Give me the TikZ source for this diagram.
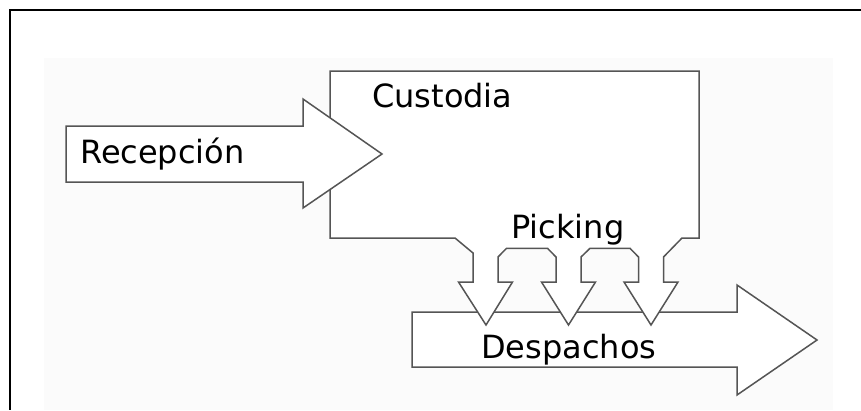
\documentclass[tikz,border=0pt]{standalone}
\usepackage{fontspec}
\setmainfont{DejaVu Sans}
\definecolor{outline}{HTML}{555555}
\definecolor{panel}{HTML}{FBFBFB}
\begin{document}
\begin{tikzpicture}[x=1pt,y=-1pt,
  shape line/.style={draw=outline,line width=1.5pt,fill=white,line join=miter},
  label text/.style={anchor=base west,inner sep=0pt,font=\fontsize{32}{38}\selectfont,text=black}]
\useasboundingbox (0,0) rectangle (861,410);
% page frame and panel
\fill[panel] (44,58) rectangle (833,410);
\draw[line width=2.6pt,black] (861,10) -- (10,10) -- (10,410);
% outgoing flow (Despachos)
\draw[shape line] (412,312) -- (737,312) -- (737,285) -- (817,340) -- (737,395)
  -- (737,367) -- (412,367) -- cycle;
% storage block with three picking arrows
\draw[shape line] (330,71) -- (699,71) -- (699,238) -- (682,238) -- (663.5,257)
  -- (663.5,282) -- (678,282) -- (651,325) -- (624,282) -- (638.5,282)
  -- (638.5,257) -- (630,248.3) -- (590,248.3) -- (581,257)
  -- (581,282) -- (595.5,282) -- (568.5,325) -- (541.5,282) -- (556,282)
  -- (556,257) -- (547.5,248.3) -- (506.5,248.3) -- (498,257)
  -- (498,282) -- (512.5,282) -- (486,325) -- (458.5,282) -- (473,282)
  -- (473,253) -- (455,238) -- (330,238) -- cycle;
% incoming flow (Recepción)
\draw[shape line] (66,126) -- (303,126) -- (303,99) -- (382,154) -- (303,208)
  -- (303,182) -- (66,182) -- cycle;
% labels
\node[label text] (custodia) at (372,107) {Custodia};
\node[label text] (recepcion) at (80,163) {Recepción};
\node[label text] (picking) at (511,238) {Picking};
\node[label text] (despachos) at (481,358) {Despachos};
\end{tikzpicture}
\end{document}
